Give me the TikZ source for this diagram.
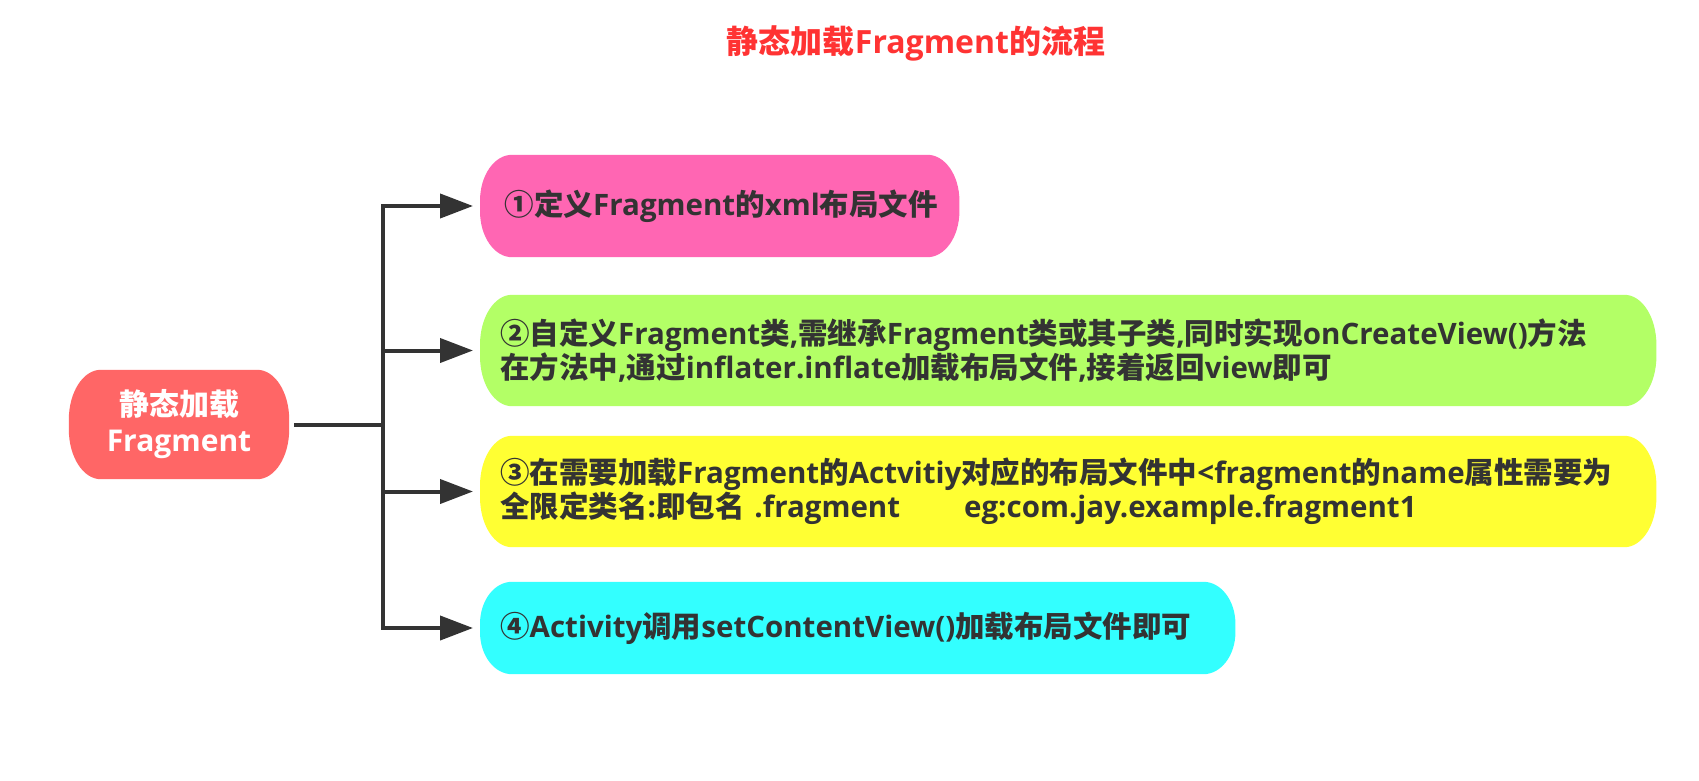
\documentclass[tikz,border=0pt]{standalone}
\usepackage{fontspec}
\setmainfont{Open Sans}
\newfontfamily\zhfont{Noto Sans CJK SC}
\usetikzlibrary{arrows.meta,backgrounds,calc}
\newcommand\zh[1]{{\zhfont #1}}
\definecolor{titleC}{HTML}{FF3333}
\definecolor{lineC}{HTML}{333333}
\definecolor{txtC}{HTML}{333333}
\definecolor{rootC}{HTML}{FF6666}
\definecolor{pinkC}{HTML}{FF66B3}
\definecolor{greenC}{HTML}{B3FF66}
\definecolor{yellowC}{HTML}{FFFF33}
\definecolor{cyanC}{HTML}{33FFFF}
\newcommand\pillfill[3]{%
  \fill[#2] ([xshift=32pt]#1.north west) -- ([xshift=-32pt]#1.north east)
    arc[start angle=90,end angle=0,x radius=32pt,y radius=#3]
    -- ([yshift=#3]#1.south east)
    arc[start angle=0,end angle=-90,x radius=32pt,y radius=#3]
    -- ([xshift=32pt]#1.south west)
    arc[start angle=270,end angle=180,x radius=32pt,y radius=#3]
    -- ([yshift=-#3]#1.north west)
    arc[start angle=180,end angle=90,x radius=32pt,y radius=#3] -- cycle;}
\tikzset{
  conn/.style={draw=lineC, line width=4pt},
  arr/.style={conn, -{Triangle[length=33pt,width=24pt]}},
  box/.style={inner sep=0pt, anchor=west, align=left, text=txtC,
    font=\fontsize{29.5pt}{34pt}\selectfont\bfseries},
  rootbox/.style={inner sep=0pt, align=center, text=white,
    font=\fontsize{30pt}{36pt}\selectfont\bfseries},
}
\begin{document}
\begin{tikzpicture}[x=1pt,y=-1pt]
\useasboundingbox (0,0) rectangle (1699,781);
\node[font=\fontsize{32pt}{36pt}\selectfont\bfseries, text=titleC, inner sep=0pt] (title) at (916,43) {\zh{静态加载}Fragment\zh{的流程}};
\node[rootbox, minimum width=220pt, minimum height=109pt] (root) at (179,424.5) {\zh{静态加载}\\Fragment};
\node[box, minimum width=479pt, minimum height=102pt, text width=430pt] (b1) at (480,206)
  {\zh{①定义}Fragment\zh{的}xml\zh{布局文件}};
\node[box, minimum width=1176pt, minimum height=111pt, text width=1136pt] (b2) at (480,350.5)
  {\zh{②自定义}Fragment\zh{类},\zh{需继承}Fragment\zh{类或其子类},\zh{同时实现}onCreateView()\zh{方法}\\
   \zh{在方法中},\zh{通过}inflater.inflate\zh{加载布局文件},\zh{接着返回}view\zh{即可}};
\node[box, minimum width=1176pt, minimum height=111pt, text width=1136pt] (b3) at (480,491.5)
  {\zh{③在需要加载}Fragment\zh{的}Actvitiy\zh{对应的布局文件中}<fragment\zh{的}name\zh{属性需要为}\\
   \zh{全限定类名}:\zh{即包名} .fragment\hspace*{64pt}eg:com.jay.example.fragment1};
\node[box, minimum width=755pt, minimum height=92pt, text width=715pt] (b4) at (480,628)
  {\zh{④}Activity\zh{调用}setContentView()\zh{加载布局文件即可}};
\begin{scope}[on background layer]
  \fill[white] (0,0) rectangle (1699,781);
  \pillfill{root}{rootC}{50pt}
  \pillfill{b1}{pinkC}{46pt}
  \pillfill{b2}{greenC}{50pt}
  \pillfill{b3}{yellowC}{50pt}
  \pillfill{b4}{cyanC}{42pt}
\end{scope}
\coordinate (trunk) at (383,424.5);
\draw[conn] ([xshift=5pt]root.east) -- (trunk);
\draw[arr] (trunk) |- ([xshift=-7pt]b1.west);
\draw[arr] (trunk) |- ([xshift=-7pt]b2.west);
\draw[arr] (trunk) |- ([xshift=-7pt]b3.west);
\draw[arr] (trunk) |- ([xshift=-7pt]b4.west);
\end{tikzpicture}
\end{document}
